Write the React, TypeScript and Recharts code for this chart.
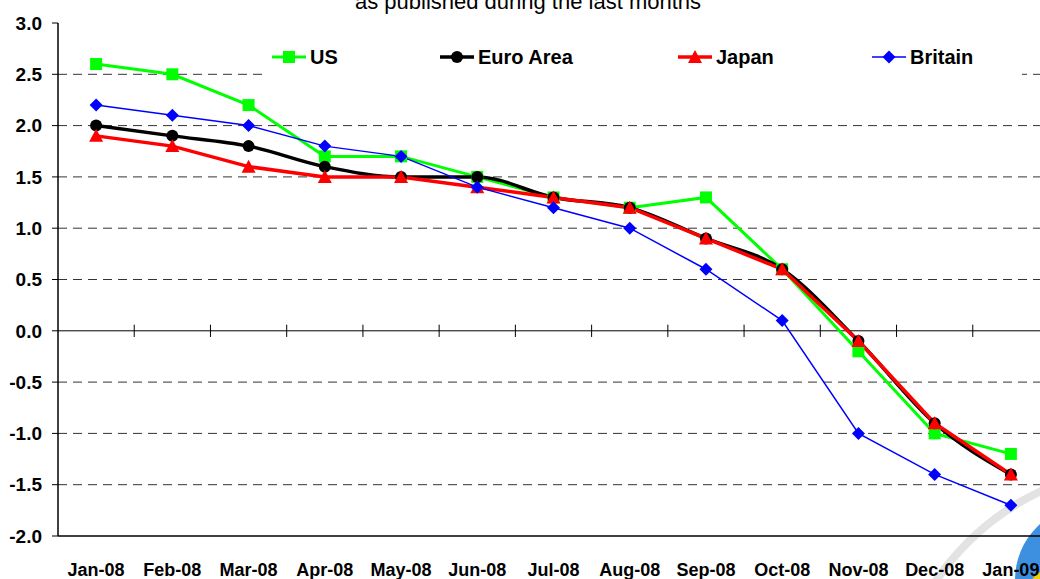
import { LineChart, Line, XAxis, YAxis, ReferenceLine, Legend } from "recharts";

const months = ["Jan-08", "Feb-08", "Mar-08", "Apr-08", "May-08", "Jun-08", "Jul-08", "Aug-08", "Sep-08", "Oct-08", "Nov-08", "Dec-08", "Jan-09"];
const us = [2.6, 2.5, 2.2, 1.7, 1.7, 1.5, 1.3, 1.2, 1.3, 0.6, -0.2, -1.0, -1.2];
const euro = [2.0, 1.9, 1.8, 1.6, 1.5, 1.5, 1.3, 1.2, 0.9, 0.6, -0.1, -0.9, -1.4];
const japan = [1.9, 1.8, 1.6, 1.5, 1.5, 1.4, 1.3, 1.2, 0.9, 0.6, -0.1, -0.9, -1.4];
const britain = [2.2, 2.1, 2.0, 1.8, 1.7, 1.4, 1.2, 1.0, 0.6, 0.1, -1.0, -1.4, -1.7];
const yTicks = [-2, -1.5, -1, -0.5, 0, 0.5, 1, 1.5, 2, 2.5, 3];
const gridLevels = [-1.5, -1, -0.5, 0.5, 1, 1.5, 2, 2.5];
const subtitle = "as published during the last months";

const data = months.map((m, i) => ({ i, m, us: us[i], euro: euro[i], japan: japan[i], britain: britain[i] }));
const boundaries = months.map((_, i) => i + 0.5);

const FONT = "'Liberation Sans', Arial, sans-serif";

type Marker = "square" | "circle" | "triangle" | "diamond";

function mark(kind: Marker, cx: number, cy: number, color: string, key?: string) {
  if (kind === "square") return <rect key={key} x={cx - 6} y={cy - 6} width={12} height={12} fill={color} />;
  if (kind === "circle") return <circle key={key} cx={cx} cy={cy} r={6} fill={color} />;
  if (kind === "triangle")
    return <polygon key={key} points={`${cx},${cy - 7} ${cx + 7},${cy + 6} ${cx - 7},${cy + 6}`} fill={color} />;
  return <polygon key={key} points={`${cx},${cy - 6.5} ${cx + 6.5},${cy} ${cx},${cy + 6.5} ${cx - 6.5},${cy}`} fill={color} />;
}

const series = [
  { key: "us", name: "US", color: "#00ff00", width: 3, marker: "square" as Marker, curve: "linear" as const },
  { key: "euro", name: "Euro Area", color: "#000000", width: 3.5, marker: "circle" as Marker, curve: "monotone" as const },
  { key: "japan", name: "Japan", color: "#ff0000", width: 3.5, marker: "triangle" as Marker, curve: "linear" as const },
  { key: "britain", name: "Britain", color: "#0000ff", width: 1.5, marker: "diamond" as Marker, curve: "linear" as const },
];
const legendLeft = [7, 175, 413, 607];

function LegendBox() {
  return (
    <div style={{ position: "relative", width: 757, height: 40, background: "#fff" }}>
      {series.map((s, k) => (
        <div key={s.key} style={{ position: "absolute", left: legendLeft[k], top: 0, height: 40, display: "flex", alignItems: "center" }}>
          <svg width={34} height={16}>
            <line x1={0} y1={8} x2={34} y2={8} stroke={s.color} strokeWidth={s.width} />
            {mark(s.marker, 17, 8, s.color)}
          </svg>
          <span style={{ marginLeft: 4, fontFamily: FONT, fontWeight: 700, fontSize: 20, color: "#000" }}>{s.name}</span>
        </div>
      ))}
    </div>
  );
}

function MonthTick(props: any) {
  const { x, y, payload } = props;
  return (
    <text x={x} y={y + 14} textAnchor="middle" fontFamily={FONT} fontWeight={700} fontSize={18} fill="#000">
      {months[payload.value]}
    </text>
  );
}

export default function App() {
  return (
    <div style={{ position: "fixed", left: 0, top: 0, width: 1040, height: 579, overflow: "hidden", background: "#fff" }}>
      {/* faint logo watermark behind the plot */}
      <svg width={1040} height={579} style={{ position: "absolute", left: 0, top: 0 }}>
        <circle cx={1150} cy={725} r={258} fill="none" stroke="#e3e3e3" strokeWidth={8} />
        <circle cx={1090} cy={580} r={75} fill="#3d8fe0" />
        <circle cx={1060} cy={602} r={36} fill="#f5d000" />
      </svg>
      <svg width={1040} height={30} style={{ position: "absolute", left: 0, top: 0 }}>
        <text x={528} y={9} textAnchor="middle" fontFamily={FONT} fontSize={22} fill="#000">{subtitle}</text>
      </svg>
      <div style={{ position: "absolute", left: 0, top: 0 }}>
        <LineChart width={1057} height={579} data={data} margin={{ top: 23, right: 8, bottom: 0, left: 8 }}>
          <XAxis
            dataKey="i"
            type="number"
            domain={[-0.5, 12.5]}
            ticks={months.map((_, i) => i)}
            interval={0}
            tickLine={false}
            tickSize={0}
            tickMargin={26}
            height={43}
            axisLine={{ stroke: "#000", strokeWidth: 1.5 }}
            tick={<MonthTick />}
          />
          <YAxis
            type="number"
            domain={[-2, 3]}
            ticks={yTicks}
            interval={0}
            width={50}
            tickSize={6}
            tickMargin={10}
            axisLine={{ stroke: "#000", strokeWidth: 1.5 }}
            tickLine={{ stroke: "#000" }}
            tickFormatter={(v: number) => v.toFixed(1)}
            tick={{ fill: "#000", fontSize: 19, fontWeight: 700, fontFamily: FONT }}
          />
          {gridLevels.map((g) => (
            <ReferenceLine key={`g${g}`} y={g} stroke="#333" strokeDasharray="9 6" strokeWidth={1} />
          ))}
          <ReferenceLine y={0} stroke="#000" strokeWidth={1} />
          {boundaries.map((b) => (
            <ReferenceLine key={`b${b}`} segment={[{ x: b, y: -0.06 }, { x: b, y: 0.06 }]} stroke="#000" strokeWidth={1} />
          ))}
          <Legend
            verticalAlign="middle"
            align="center"
            layout="horizontal"
            wrapperStyle={{ top: 37, left: 265, width: 757, height: 40 }}
            content={() => <LegendBox />}
          />
          {series.map((s) => (
            <Line
              key={s.key}
              dataKey={s.key}
              name={s.name}
              type={s.curve}
              stroke={s.color}
              strokeWidth={s.width}
              isAnimationActive={false}
              activeDot={false}
              dot={(p: any) => mark(s.marker, p.cx, p.cy, s.color, `${s.key}-${p.index}`)}
            />
          ))}
        </LineChart>
      </div>
    </div>
  );
}
